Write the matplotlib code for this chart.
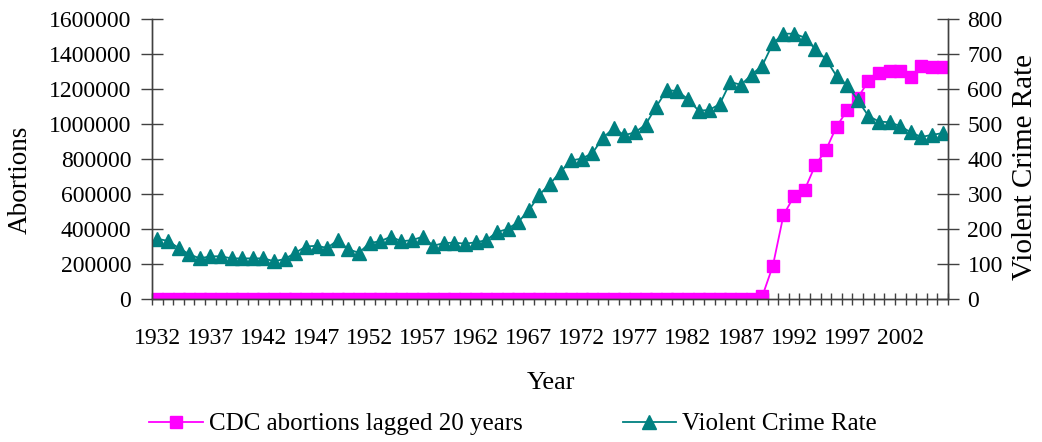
import numpy as np
import matplotlib
matplotlib.use('Agg')
import matplotlib.pyplot as plt

plt.rcParams['font.family'] = ['Liberation Serif', 'DejaVu Serif']

years = list(range(1932, 2007))

# CDC abortions shifted forward 20 years (zero before 1989)
abortions = [0] * 57 + [
    15000, 190000, 480000, 588000, 625000, 765000, 852000, 985000, 1078000,
    1150000, 1245000, 1292000, 1300000, 1302000, 1268000, 1332000, 1325000, 1325000,
]

# violent crime rate per 100k
crime = [
    172, 166, 146, 128, 116, 122, 122, 116, 116, 116,
    116, 108, 114, 132, 150, 152, 146, 168, 142, 132,
    160, 165, 178, 165, 168, 178, 152, 160,
    161, 158, 162, 168, 191, 200, 220, 253, 298, 329,
    364, 396, 401, 417, 461, 488, 468, 476, 498, 549,
    597, 594, 571, 538, 540, 557, 620, 612, 641, 667,
    730, 758, 758, 747, 714, 685, 637, 611, 568, 523,
    507, 505, 494, 476, 463, 469, 474,
]

label_years = list(range(1932, 2003, 5))

fs = 17
magenta = '#FF00FF'
teal = '#008080'

fig = plt.figure(figsize=(10.42, 4.42), dpi=100)
ax = fig.add_axes([152 / 1042, 1 - 299 / 442, 796 / 1042, 280 / 442])
ax2 = ax.twinx()

x = np.arange(len(years))
l1, = ax.plot(x, abortions, color=magenta, marker='s', markersize=8, linewidth=1.3,
              label='CDC abortions lagged 20 years')
l2, = ax2.plot(x, crime, color=teal, marker='^', markersize=9.5, linewidth=1.3,
               label='Violent Crime Rate')

ax.set_xlim(-0.5, len(years) - 0.5)
ax.set_ylim(0, 1600000)
ax2.set_ylim(0, 800)
ax.set_yticks(np.arange(0, 1600001, 200000))
ax.set_yticklabels([str(v) for v in range(0, 1600001, 200000)], fontsize=fs)
ax2.set_yticks(np.arange(0, 801, 100))
ax2.set_yticklabels([str(v) for v in range(0, 801, 100)], fontsize=fs)

# category boundaries get the tick marks, labels sit under the categories
ax.set_xticks(np.arange(-0.5, len(years), 1.0))
ax.set_xticklabels([])
ax.set_xticks([years.index(y) for y in label_years], minor=True)
ax.set_xticklabels([str(y) for y in label_years], minor=True, fontsize=fs)
ax.tick_params(axis='x', which='major', direction='inout', length=9, width=1, color='#404040')
ax.tick_params(axis='x', which='minor', length=0, pad=21)
ax.tick_params(axis='y', direction='inout', length=16, width=1, color='#404040', pad=7)
ax2.tick_params(axis='y', direction='inout', length=16, width=1, color='#404040', pad=6)

for a in (ax, ax2):
    a.spines['top'].set_visible(False)
    for s in ('left', 'right', 'bottom'):
        a.spines[s].set_color('#404040')
        a.spines[s].set_linewidth(1)

fig.text(20 / 1042, 1 - 180 / 442, 'Abortions', rotation=90, ha='center', va='center',
         fontsize=19.5)
fig.text(1025 / 1042, 1 - 167 / 442, 'Violent Crime Rate', rotation=90, ha='center',
         va='center', fontsize=21)
fig.text(551 / 1042, 1 - 383 / 442, 'Year', ha='center', va='center', fontsize=19)

fig.legend(handles=[l1, l2], loc='center', bbox_to_anchor=(513 / 1042, 1 - 424 / 442),
           ncol=2, frameon=False, fontsize=18, handlelength=2.15, columnspacing=4.0,
           handletextpad=0.25)

fig.savefig('out.png', dpi=100)
